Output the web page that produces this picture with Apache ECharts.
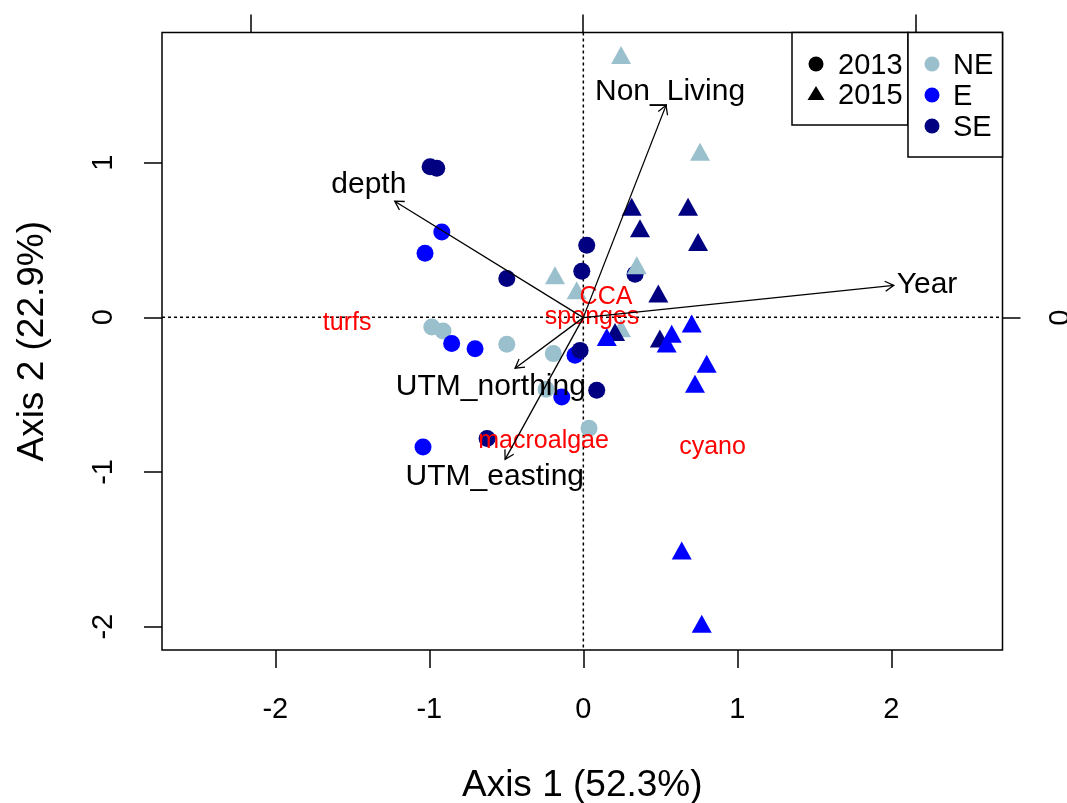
<!DOCTYPE html>
<html><head><meta charset="utf-8">
<script src="https://cdn.jsdelivr.net/npm/echarts@6/dist/echarts.min.js"></script>
<style>html,body{margin:0;padding:0;background:#fff}#c{width:1067px;height:803px}</style>
</head><body><div id="c"></div>
<script>
// ---- tick labels ----
const xTicks = [-2, -1, 0, 1, 2];
const yTicks = [-2, -1, 0, 1];
const topTicks = [-1, 0, 1];
const rightTicks = [0];

// ---- site scores (Axis 1, Axis 2) ----
const ne2013 = [[-0.984,-0.063],[-0.911,-0.089],[-0.497,-0.175],[-0.195,-0.235],[-0.242,-0.466],[0.037,-0.718]];
const e2013  = [[-0.919,0.552],[-1.028,0.414],[-0.855,-0.170],[-0.703,-0.203],[-0.054,-0.246],[-0.140,-0.516],[-1.041,-0.839]];
const se2013 = [[-0.995,0.973],[-0.952,0.964],[-0.497,0.250],[0.022,0.466],[-0.010,0.298],[0.336,0.278],[-0.021,-0.214],[0.087,-0.472],[-0.625,-0.783]];
const ne2015 = [[0.245,1.696],[0.758,1.070],[-0.184,0.272],[-0.043,0.175],[0.347,0.337],[0.245,-0.071]];
const se2015 = [[0.314,0.714],[0.680,0.714],[0.368,0.576],[0.745,0.487],[0.487,0.153],[0.497,-0.138],[0.206,-0.095]];
const e2015  = [[0.704,-0.041],[0.574,-0.106],[0.152,-0.128],[0.541,-0.170],[0.801,-0.300],[0.725,-0.429],[0.639,-1.508],[0.769,-1.981]];

// ---- species scores ----
const speciesNames = ['turfs', 'CCA', 'sponges', 'macroalgae', 'cyano'];
const speciesXY = [[-1.534,-0.037],[0.147,0.128],[0.057,0.003],[-0.258,-0.800],[0.839,-0.839]];

// ---- environmental vectors (secondary axes) ----
const vectorNames = ['Year', 'Non_Living', 'depth', 'UTM_northing', 'UTM_easting'];
const vectorTips = [[0.934,0.097],[0.249,0.638],[-0.567,0.350],[-0.205,-0.152],[-0.235,-0.426]];
const vectorLabelXY = [[1.034,0.099],[0.261,0.680],[-0.645,0.398],[-0.278,-0.207],[-0.266,-0.478]];

const FONT = "'Liberation Sans', Arial, sans-serif";
const COL = {NE: '#9AC0CD', E: '#0000FF', SE: '#000080'};

const chart = echarts.init(document.getElementById('c'), null, {renderer: 'canvas'});

function circleSeries(data, color) {
  return {type: 'scatter', xAxisIndex: 0, yAxisIndex: 0, data, symbol: 'circle', symbolSize: 17,
    itemStyle: {color, opacity: 1}, silent: true, z: 3};
}
function triSeries(data, color) {
  return {type: 'scatter', xAxisIndex: 0, yAxisIndex: 0, data, symbol: 'triangle', symbolSize: [20, 18],
    itemStyle: {color, opacity: 1}, silent: true, z: 3};
}
const noLine = {show: false, onZero: false};
const tickStyle = {color: '#000', width: 1.5};

const option = {
  animation: false,
  backgroundColor: '#fff',
  grid: {left: 162, right: 64.5, top: 32.5, bottom: 153, show: true, borderColor: '#000', borderWidth: 1.5,
    backgroundColor: 'transparent', containLabel: false, outerBoundsMode: 'none'},
  xAxis: [
    {type: 'value', position: 'bottom', min: -2.736, max: 2.722,
      axisLine: noLine, splitLine: {show: false},
      axisTick: {show: true, customValues: xTicks, length: 18, lineStyle: tickStyle},
      axisLabel: {customValues: xTicks, fontSize: 29, fontFamily: FONT, color: '#000', margin: 45},
      name: 'Axis 1 (52.3%)', nameLocation: 'middle', nameGap: 117,
      nameTextStyle: {fontSize: 37, fontFamily: FONT, color: '#000'}},
    {type: 'value', position: 'top', min: -1.267, max: 1.261,
      axisLine: noLine, splitLine: {show: false},
      axisTick: {show: true, customValues: topTicks, length: 18, lineStyle: tickStyle},
      axisLabel: {show: false}}
  ],
  yAxis: [
    {type: 'value', position: 'left', min: -2.151, max: 1.841,
      axisLine: noLine, splitLine: {show: false},
      axisTick: {show: true, customValues: yTicks, length: 18, lineStyle: tickStyle},
      axisLabel: {customValues: yTicks, rotate: 90, fontSize: 29, fontFamily: FONT, color: '#000', margin: 44},
      name: 'Axis 2 (22.9%)', nameLocation: 'middle', nameRotate: 90, nameGap: 111,
      nameTextStyle: {fontSize: 37, fontFamily: FONT, color: '#000'}},
    {type: 'value', position: 'right', min: -0.999, max: 0.857,
      axisLine: noLine, splitLine: {show: false},
      axisTick: {show: true, customValues: rightTicks, length: 18, lineStyle: tickStyle},
      axisLabel: {customValues: rightTicks, rotate: 90, fontSize: 29, fontFamily: FONT, color: '#000', margin: 44}}
  ],
  series: [
    // zero reference lines
    {type: 'custom', xAxisIndex: 0, yAxisIndex: 0, data: [[0, 0]], silent: true, z: 1,
      renderItem(params, api) {
        const cs = params.coordSys;
        const o = api.coord([api.value(0), api.value(1)]);
        const st = {stroke: '#000', lineWidth: 1.5, lineDash: [3, 3]};
        return {type: 'group', children: [
          {type: 'line', shape: {x1: cs.x, y1: o[1], x2: cs.x + cs.width, y2: o[1]}, style: st},
          {type: 'line', shape: {x1: o[0], y1: cs.y, x2: o[0], y2: cs.y + cs.height}, style: st}
        ]};
      }},
    circleSeries(ne2013, COL.NE),
    circleSeries(e2013, COL.E),
    circleSeries(se2013, COL.SE),
    triSeries(ne2015, COL.NE),
    triSeries(se2015, COL.SE),
    triSeries(e2015, COL.E),
    // species labels
    {type: 'custom', xAxisIndex: 0, yAxisIndex: 0, silent: true, z: 4,
      data: speciesXY.map((p, i) => [p[0], p[1], i]),
      renderItem(params, api) {
        const c = api.coord([api.value(0), api.value(1)]);
        return {type: 'text', x: c[0], y: c[1], style: {text: speciesNames[api.value(2)], font: '25px ' + FONT,
          fill: '#FF0000', align: 'center', verticalAlign: 'middle'}};
      }},
    // vectors
    {type: 'custom', xAxisIndex: 1, yAxisIndex: 1, silent: true, z: 5,
      data: vectorTips.map((p, i) => [p[0], p[1], i]),
      renderItem(params, api) {
        const o = api.coord([0, 0]);
        const t = api.coord([api.value(0), api.value(1)]);
        const ang = Math.atan2(t[1] - o[1], t[0] - o[0]);
        const L = 10, a = Math.PI / 6;
        const h1 = [t[0] - L * Math.cos(ang - a), t[1] - L * Math.sin(ang - a)];
        const h2 = [t[0] - L * Math.cos(ang + a), t[1] - L * Math.sin(ang + a)];
        return {type: 'group', children: [
          {type: 'line', shape: {x1: o[0], y1: o[1], x2: t[0], y2: t[1]}, style: {stroke: '#000', lineWidth: 1.3}},
          {type: 'polyline', shape: {points: [h1, t, h2]}, style: {stroke: '#000', lineWidth: 1.3, fill: null}}
        ]};
      }},
    // vector labels
    {type: 'custom', xAxisIndex: 1, yAxisIndex: 1, silent: true, z: 6,
      data: vectorLabelXY.map((p, i) => [p[0], p[1], i]),
      renderItem(params, api) {
        const c = api.coord([api.value(0), api.value(1)]);
        return {type: 'text', x: c[0], y: c[1], style: {text: vectorNames[api.value(2)], font: '30px ' + FONT,
          fill: '#000', align: 'center', verticalAlign: 'middle'}};
      }}
  ],
  graphic: [
    {type: 'rect', z: 100, shape: {x: 792, y: 32.5, width: 116, height: 92.5}, style: {fill: '#fff', stroke: '#000', lineWidth: 1.5}},
    {type: 'circle', z: 101, shape: {cx: 816, cy: 64, r: 7.5}, style: {fill: '#000'}},
    {type: 'polygon', z: 101, shape: {points: [[816, 86], [824.5, 100], [807.5, 100]]}, style: {fill: '#000'}},
    {type: 'text', z: 101, x: 838, y: 66, style: {text: '2013', font: '29px ' + FONT, fill: '#000', align: 'left', verticalAlign: 'middle'}},
    {type: 'text', z: 101, x: 838, y: 96, style: {text: '2015', font: '29px ' + FONT, fill: '#000', align: 'left', verticalAlign: 'middle'}},
    {type: 'rect', z: 102, shape: {x: 908, y: 32.5, width: 94.5, height: 124.5}, style: {fill: '#fff', stroke: '#000', lineWidth: 1.5}},
    {type: 'circle', z: 103, shape: {cx: 932, cy: 64, r: 7.5}, style: {fill: COL.NE}},
    {type: 'circle', z: 103, shape: {cx: 932, cy: 95, r: 7.5}, style: {fill: COL.E}},
    {type: 'circle', z: 103, shape: {cx: 932, cy: 126, r: 7.5}, style: {fill: COL.SE}},
    {type: 'text', z: 103, x: 953, y: 66, style: {text: 'NE', font: '29px ' + FONT, fill: '#000', align: 'left', verticalAlign: 'middle'}},
    {type: 'text', z: 103, x: 953, y: 97, style: {text: 'E', font: '29px ' + FONT, fill: '#000', align: 'left', verticalAlign: 'middle'}},
    {type: 'text', z: 103, x: 953, y: 128, style: {text: 'SE', font: '29px ' + FONT, fill: '#000', align: 'left', verticalAlign: 'middle'}}
  ]
};
chart.setOption(option);
</script>
</body></html>
